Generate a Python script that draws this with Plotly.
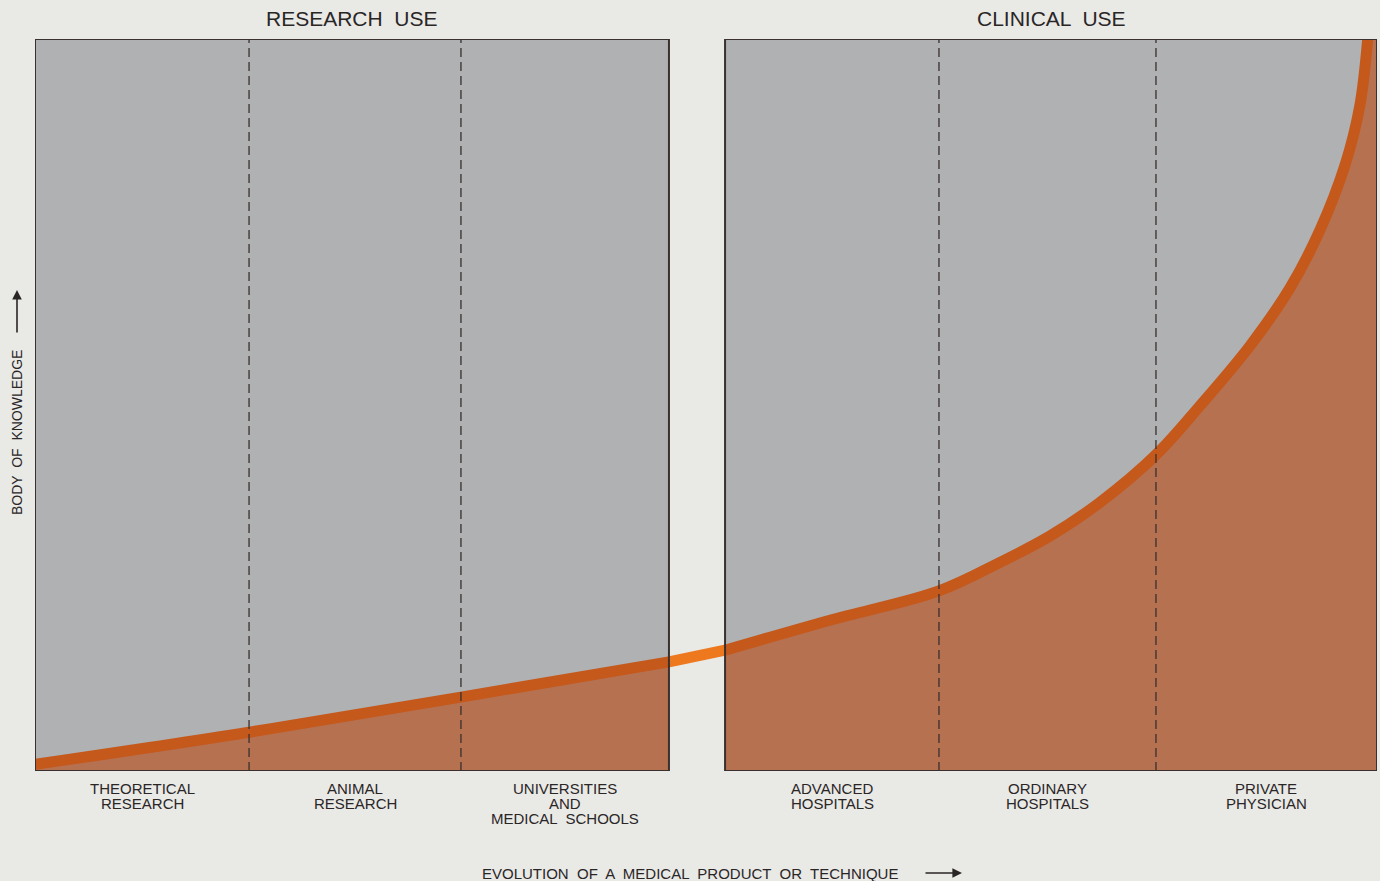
import plotly.graph_objects as go

# ── 数据 ──────────────────────────────────────────────────────────────
# 横轴 0–100：研究阶段 0–47.2，临床阶段 51.4–100（中间为两面板之间的空隙）
research_edges = [0, 15.95, 31.74, 47.24]
clinical_edges = [51.42, 67.36, 83.53, 100]

research_labels = ["THEORETICAL<br>RESEARCH", "ANIMAL<br>RESEARCH",
                   "UNIVERSITIES<br>AND<br>MEDICAL  SCHOOLS"]
clinical_labels = ["ADVANCED<br>HOSPITALS", "ORDINARY<br>HOSPITALS",
                   "PRIVATE<br>PHYSICIAN"]

# 知识曲线
curve_x = [0, 15.95, 31.74, 47.24, 51.42, 59.24, 67.36, 71.91, 75.63, 79.36,
           83.53, 86.81, 90.54, 93.52, 95.75, 97.62, 98.73, 99.33]
curve_y = [0.9, 5.3, 10.1, 14.9, 16.5, 20.6, 24.6, 28.5, 32.1, 36.7,
           43.2, 49.9, 58.1, 66.0, 73.9, 82.8, 91.0, 100.5]

# ── 颜色 ──────────────────────────────────────────────────────────────
PAPER = "#e9e9e6"
PANEL = "#afb1b3"
FILL = "#b67151"
LINE_DARK = "#c5581b"
LINE_BRIGHT = "#ee781e"
INK = "#3a302e"
TEXT = "#2a2626"
FONT = "Liberation Sans, Arial, sans-serif"

n_left = len(research_edges)  # 曲线前 4 个点落在研究面板内

fig = go.Figure()

# 曲线下方的填充（仅面板内部）
fig.add_trace(go.Scatter(
    x=curve_x[:n_left], y=curve_y[:n_left], mode="lines",
    line=dict(width=0, shape="spline"), fill="tozeroy", fillcolor=FILL,
    hoverinfo="skip"))
fig.add_trace(go.Scatter(
    x=curve_x[n_left:] + [clinical_edges[-1]], y=curve_y[n_left:] + [100.5],
    mode="lines", line=dict(width=0, shape="spline"), fill="tozeroy",
    fillcolor=FILL, hoverinfo="skip"))

# 曲线本身：面板内较暗，空隙处较亮
fig.add_trace(go.Scatter(
    x=curve_x[:n_left], y=curve_y[:n_left], mode="lines",
    line=dict(color=LINE_DARK, width=11, shape="spline")))
fig.add_trace(go.Scatter(
    x=curve_x[n_left - 1:n_left + 1], y=curve_y[n_left - 1:n_left + 1],
    mode="lines", line=dict(color=LINE_BRIGHT, width=11)))
fig.add_trace(go.Scatter(
    x=curve_x[n_left:], y=curve_y[n_left:], mode="lines",
    line=dict(color=LINE_DARK, width=11, shape="spline")))

shapes = []
annotations = []
for edges, labels, title in [(research_edges, research_labels, "RESEARCH  USE"),
                             (clinical_edges, clinical_labels, "CLINICAL  USE")]:
    # 灰色面板（底层）+ 边框（顶层）
    shapes.append(dict(type="rect", xref="x", yref="y", x0=edges[0], x1=edges[-1],
                       y0=0, y1=100, fillcolor=PANEL, line_width=0, layer="below"))
    shapes.append(dict(type="rect", xref="x", yref="y", x0=edges[0], x1=edges[-1],
                       y0=0, y1=100, line=dict(color=INK, width=2), layer="above"))
    for e in edges[1:-1]:
        shapes.append(dict(type="line", xref="x", yref="y", x0=e, x1=e, y0=0, y1=100,
                           line=dict(color=INK, width=1.3, dash="9px,5px"), layer="above"))
    # 分段标签，逐行放置以收紧行距
    for a, b, lab in zip(edges[:-1], edges[1:], labels):
        for j, line in enumerate(lab.split("<br>")):
            annotations.append(dict(x=(a + b) / 2, y=0, xref="x", yref="y",
                                    yshift=-7 - 15 * j, text=line, showarrow=False,
                                    yanchor="top",
                                    font=dict(family=FONT, size=15, color=TEXT)))
    annotations.append(dict(x=(edges[0] + edges[-1]) / 2, y=1, xref="x", yref="paper",
                            yshift=7, text=title, showarrow=False, yanchor="bottom",
                            font=dict(family=FONT, size=21, color=TEXT)))

# 轴标题
annotations.append(dict(x=0.5, y=0, xref="paper", yref="paper", yshift=-102,
                        xshift=-16, text="EVOLUTION  OF  A  MEDICAL  PRODUCT  OR  TECHNIQUE",
                        showarrow=False, yanchor="middle",
                        font=dict(family=FONT, size=15, color=TEXT)))
annotations.append(dict(x=0.5, y=0, xref="paper", yref="paper", yshift=-102,
                        xshift=256, ax=-38, ay=0, axref="pixel", ayref="pixel",
                        text="", showarrow=True, arrowhead=2, arrowsize=1.2,
                        arrowwidth=1.6, arrowcolor=TEXT))
annotations.append(dict(x=0, y=0.5, xref="paper", yref="paper", xshift=-18,
                        yshift=-28, text="BODY  OF  KNOWLEDGE", textangle=-90,
                        showarrow=False, xanchor="center",
                        font=dict(family=FONT, size=14, color=TEXT)))
annotations.append(dict(x=0, y=0.5, xref="paper", yref="paper", xshift=-18,
                        yshift=115, ax=0, ay=44, axref="pixel", ayref="pixel",
                        text="", showarrow=True, arrowhead=2, arrowsize=1.2,
                        arrowwidth=1.6, arrowcolor=TEXT))

fig.update_layout(
    width=1380, height=881,
    paper_bgcolor=PAPER, plot_bgcolor=PAPER,
    margin=dict(l=35, r=3, t=39, b=110),
    showlegend=False,
    shapes=shapes, annotations=annotations,
    xaxis=dict(range=[0, 100], visible=False, fixedrange=True),
    yaxis=dict(range=[0, 100], visible=False, fixedrange=True),
)

fig.write_html("out.html", config={"displayModeBar": False},
               post_script="document.body.style.margin='0';")
